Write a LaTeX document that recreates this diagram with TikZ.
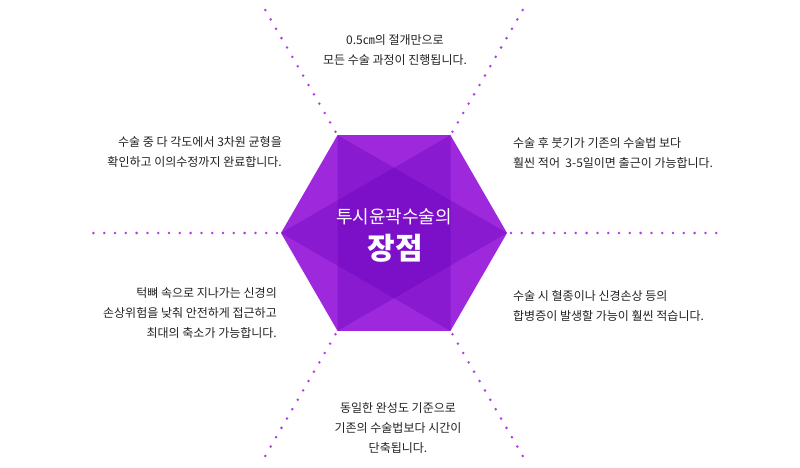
\documentclass[tikz,border=0pt]{standalone}
\usepackage{fontspec}
\setmainfont{Noto Sans CJK KR}
\usetikzlibrary{calc}
\definecolor{hexbase}{HTML}{9E28DC}
\definecolor{hexdark}{HTML}{6400BC}
\definecolor{dotpurple}{HTML}{B23CE2}
\definecolor{txtgray}{HTML}{222222}

\begin{document}
\begin{tikzpicture}[x=1pt,y=1pt,
    dotline/.style={draw=dotpurple,line width=2.8pt,line cap=round,dash pattern=on 0pt off 10.8pt,shorten <=4pt},
    facet/.style={fill=hexdark,fill opacity=0.35},
    note/.style={inner sep=0pt,text=txtgray,font=\fontsize{12}{20}\selectfont}]
  \useasboundingbox (0,0) rectangle (800,467);
  \coordinate (c) at (394,234);
  \foreach \i/\r in {0/330,1/261,2/261,3/303,4/261,5/261}{
    \coordinate (v\i) at ($(c)+(\i*60:113)$);
    \coordinate (e\i) at ($(c)+(\i*60:\r)$);
  }
  \foreach \i in {0,...,5} \draw[dotline] (v\i) -- (e\i);
  \fill[hexbase] (v0)--(v1)--(v2)--(v3)--(v4)--(v5)--cycle;
  \fill[facet] (v0)--(v2)--(v4)--cycle;
  \fill[facet] (v1)--(v3)--(v5)--cycle;
  \node[text=white,font=\fontsize{18}{18}\selectfont] (title) at (394,250) {투시윤곽수술의};
  \node[text=white,font=\fontsize{30}{30}\selectfont\bfseries] (head) at (395,219) {장점};
  \node[note,align=center] (notetop) at (395,417) {0.5㎝의 절개만으로\\모든 수술 과정이 진행됩니다.};
  \node[note,align=right,anchor=east] (noteul) at (282,315) {수술 중 다 각도에서 3차원 균형을\\확인하고 이의수정까지 완료합니다.};
  \node[note,align=left,anchor=west] (noteur) at (513,314) {수술 후 붓기가 기존의 수술법 보다\\훨씬 적어~ 3-5일이면 출근이 가능합니다.};
  \node[note,align=right,anchor=east] (notell) at (277,154) {턱뼈 속으로 지나가는 신경의\\손상위험을 낮춰 안전하게 접근하고\\최대의 축소가 가능합니다.};
  \node[note,align=left,anchor=west] (notelr) at (513,161) {수술 시 혈종이나 신경손상 등의\\합병증이 발생할 가능이 훨씬 적습니다.};
  \node[note,align=center] (notebot) at (398,39) {동일한 완성도 기준으로\\기존의 수술법보다 시간이\\단축됩니다.};
\end{tikzpicture}
\end{document}
